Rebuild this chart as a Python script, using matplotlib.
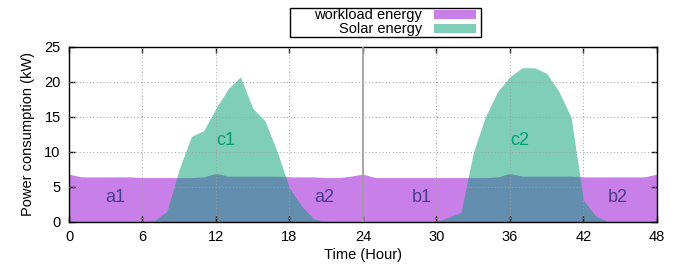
import matplotlib
matplotlib.use("Agg")
import matplotlib.pyplot as plt
from matplotlib.patches import Patch, Rectangle
import numpy as np

plt.rcParams['font.family'] = ['Liberation Sans', 'DejaVu Sans']

hours = list(range(0, 49))
workload = [6.8, 6.4, 6.4, 6.4, 6.4, 6.4, 6.3, 6.3, 6.3, 6.3, 6.3, 6.4, 6.9, 6.5, 6.5, 6.5, 6.5, 6.5,
            6.4, 6.4, 6.4, 6.3, 6.3, 6.5, 6.8,
            6.3, 6.3, 6.3, 6.3, 6.3, 6.3, 6.3, 6.3, 6.3, 6.3, 6.4, 6.9, 6.5, 6.5, 6.5, 6.5, 6.5,
            6.4, 6.4, 6.4, 6.4, 6.4, 6.4, 6.8]
solar = [0, 0, 0, 0, 0, 0, 0, 0.2, 1.5, 7.5, 12.2, 13.0, 16.2, 19.0, 20.7, 16.2, 14.4, 10.0,
         4.8, 2.2, 0.4, 0, 0, 0, 0,
         0, 0, 0, 0, 0, 0, 0.65, 1.3, 9.8, 15.0, 18.6, 20.7, 22.0, 22.0, 21.2, 18.6, 14.9,
         3.1, 0.8, 0, 0, 0, 0, 0]

region_labels = ['a1', 'a2', 'b1', 'b2']
region_x = [3, 20, 28, 44]
peak_labels = ['c1', 'c2']
peak_x = [12, 36]

xticks = [0, 6, 12, 18, 24, 30, 36, 42, 48]
yticks = [0, 5, 10, 15, 20, 25]

purple = '#9400d3'
green = '#009e73'

fig = plt.figure(figsize=(6.9, 2.7), dpi=100)
ax = fig.add_axes([0.1, 0.179, 0.852, 0.648])

ax.fill_between(hours, 0, workload, color=purple, alpha=0.5, linewidth=0)
ax.fill_between(hours, 0, solar, color=green, alpha=0.5, linewidth=0)

ax.set_xlim(0, 48)
ax.set_ylim(0, 25)
ax.set_xticks(xticks)
ax.set_yticks(yticks)
ax.tick_params(direction='in', length=4, width=1, top=True, right=True, labelsize=10.5, pad=6)
for s in ax.spines.values():
    s.set_linewidth(1.0)
    s.set_color('black')

for t in xticks[1:-1]:
    if t == 24:
        ax.axvline(t, color='#a0a0a0', linewidth=1.3, zorder=3)
    else:
        ax.axvline(t, color='#a0a0a0', linewidth=0.7, linestyle=(0, (1, 2.5)), zorder=3)
for t in yticks[1:-1]:
    ax.axhline(t, color='#a0a0a0', linewidth=0.7, linestyle=(0, (1, 2.5)), zorder=3)

for lab, x in zip(region_labels, region_x):
    ax.text(x, 2.85, lab, color='#483d8b', fontsize=13, ha='left', va='baseline', zorder=4)
for lab, x in zip(peak_labels, peak_x):
    ax.text(x, 11.0, lab, color=green, fontsize=13, ha='left', va='baseline', zorder=4)

ax.set_xlabel('Time (Hour)', fontsize=10.5, labelpad=3)
ax.set_ylabel('Power consumption (kW)', fontsize=10.5, labelpad=7)

handles = [Patch(facecolor=purple, alpha=0.5, edgecolor='none', label='workload energy'),
           Patch(facecolor=green, alpha=0.5, edgecolor='none', label='Solar energy')]
leg = fig.legend(handles=handles, loc='center right',
                 bbox_to_anchor=(481 / 690, 1 - 22.5 / 270),
                 markerfirst=False, frameon=False, fontsize=10.5,
                 handlelength=2.9, handleheight=0.55, handletextpad=0.8,
                 labelspacing=0.0, borderpad=0.35, borderaxespad=0)
fig.patches.append(Rectangle((290 / 690, 1 - 37 / 270), 191 / 690, 29 / 270,
                             transform=fig.transFigure, fill=False,
                             edgecolor='black', linewidth=1.0))

fig.savefig('out.png', dpi=100)
